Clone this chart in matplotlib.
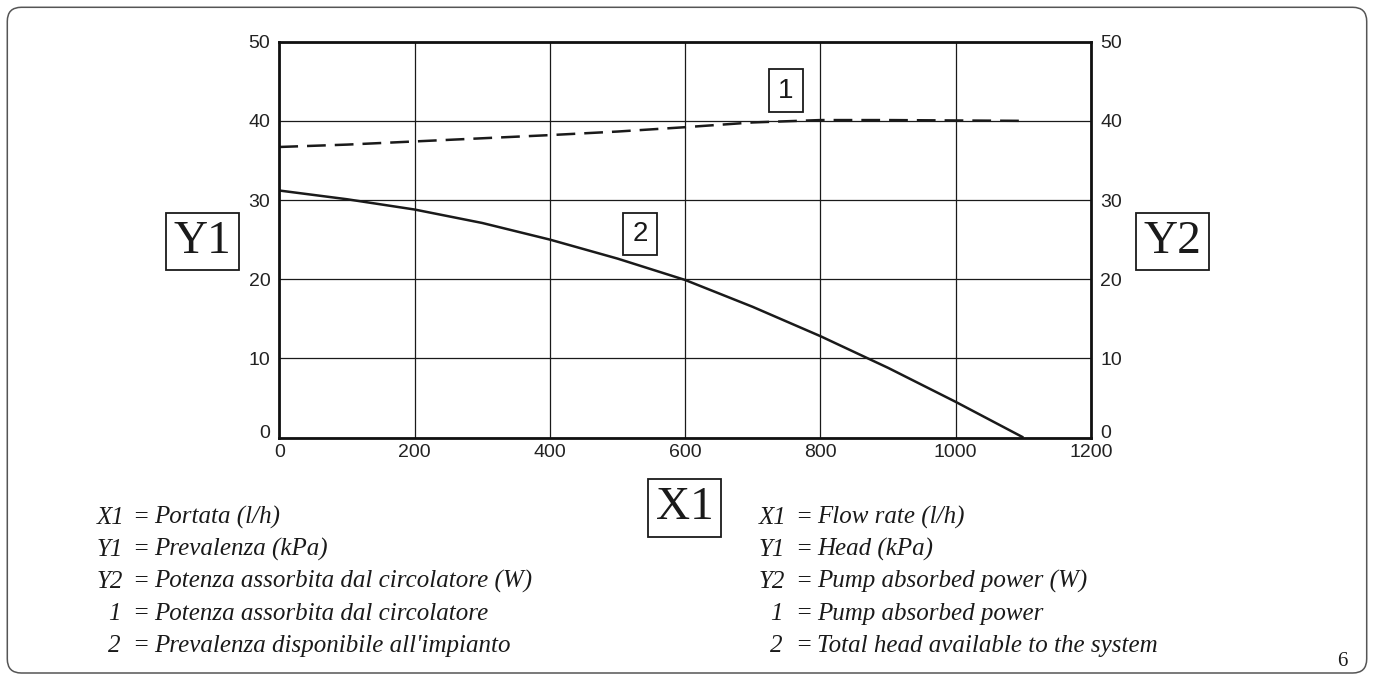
import matplotlib
matplotlib.use("Agg")
import matplotlib.pyplot as plt
from matplotlib.patches import FancyBboxPatch, Rectangle
from matplotlib.transforms import IdentityTransform, ScaledTranslation

# ---- data ----
flow = [0, 100, 200, 300, 400, 500, 600, 700, 800, 900, 1000, 1100]
head = [31.2, 30.1, 28.8, 27.1, 25.0, 22.6, 19.9, 16.5, 12.8, 8.8, 4.5, 0.0]
power = [36.7, 37.0, 37.4, 37.8, 38.2, 38.65, 39.2, 39.8, 40.1, 40.1, 40.05, 40.0]
x_ticks = [0, 200, 400, 600, 800, 1000, 1200]
y_ticks = [0, 10, 20, 30, 40, 50]

legend_it = [("X1", "Portata (l/h)"),
             ("Y1", "Prevalenza (kPa)"),
             ("Y2", "Potenza assorbita dal circolatore (W)"),
             ("1", "Potenza assorbita dal circolatore"),
             ("2", "Prevalenza disponibile all'impianto")]
legend_en = [("X1", "Flow rate (l/h)"),
             ("Y1", "Head (kPa)"),
             ("Y2", "Pump absorbed power (W)"),
             ("1", "Pump absorbed power"),
             ("2", "Total head available to the system")]

W, H = 1375, 679
fig = plt.figure(figsize=(W / 100, H / 100), dpi=100)
fig.patch.set_facecolor("white")

def fx(px):
    return px / W

def fy(py):
    return 1 - py / H

ax = fig.add_axes([fx(279.3), fy(437.5), fx(1091) - fx(279.3), fy(41.7) - fy(437.5)])
ax.set_xlim(0, 1200)
ax.set_ylim(0, 50)
ax.set_xticks(x_ticks)
ax.set_yticks(y_ticks)
ax.grid(True, color="#1a1a1a", linewidth=0.9)
ax.set_axisbelow(True)
for s in ax.spines.values():
    s.set_linewidth(2.0)
    s.set_color("#111111")
ax.tick_params(length=0, labelsize=14, labelcolor="#222222", labelright=True)
ax.tick_params(axis="y", pad=5.5)
ax.tick_params(axis="x", pad=5)
for lab in ax.get_xticklabels():
    lab.set_fontfamily("Liberation Sans")
up = ScaledTranslation(0, 6 / 100, fig.dpi_scale_trans)
for i, t in enumerate(ax.yaxis.get_major_ticks()):
    t.label1.set_fontfamily("Liberation Sans")
    t.label2.set_fontfamily("Liberation Sans")
    t.label2.set_fontsize(14)
    t.label2.set_color("#222222")
    t.set_pad(6.5)
    if i == 0:
        t.label1.set_transform(t.label1.get_transform() + up)
        t.label2.set_transform(t.label2.get_transform() + up)

ax.plot(flow, head, color="#1a1a1a", linewidth=1.8, solid_capstyle="butt")
ax.plot(flow, power, color="#1a1a1a", linewidth=1.8, dashes=(7.5, 3.6))

# ---- boxed labels ----
def boxed(x0, y0, x1, y1, text, family, size, lw=1.3):
    fig.patches.append(Rectangle((fx(x0), fy(y1)), fx(x1) - fx(x0), fy(y0) - fy(y1),
                                 transform=fig.transFigure, fill=False,
                                 edgecolor="#1a1a1a", linewidth=lw))
    fig.text(fx((x0 + x1) / 2), fy((y0 + y1) / 2), text, ha="center", va="center",
             fontsize=size, family=family, color="#1a1a1a")

boxed(166, 213, 238.7, 270, "Y1", "Liberation Serif", 34)
boxed(1136, 213, 1208.7, 270, "Y2", "Liberation Serif", 34)
boxed(648, 479.3, 721.4, 536.7, "X1", "Liberation Serif", 34)
boxed(768.7, 69.3, 803, 111.7, "1", "Liberation Sans", 20)
boxed(622.7, 212.7, 657.3, 255, "2", "Liberation Sans", 20)

# ---- legend texts ----
baselines = [524, 556, 588, 620, 652]
fs = 18
def legend_block(items, x_lab, x_eq, x_txt):
    for (lab, txt), b in zip(items, baselines):
        xl = x_lab if len(lab) > 1 else x_lab + 11
        fig.text(fx(xl), fy(b), lab, ha="left", va="baseline", fontsize=fs,
                 family="Liberation Serif", style="italic", color="#1a1a1a")
        fig.text(fx(x_eq), fy(b), "=", ha="left", va="baseline", fontsize=fs,
                 family="Liberation Serif", style="italic", color="#1a1a1a")
        fig.text(fx(x_txt), fy(b), txt, ha="left", va="baseline", fontsize=fs,
                 family="Liberation Serif", style="italic", color="#1a1a1a")

legend_block(legend_it, 96.7, 131.7, 154.3)
legend_block(legend_en, 758.7, 795, 817)

fig.text(fx(1337), fy(666), "6", ha="left", va="baseline", fontsize=15,
         family="Liberation Serif", color="#1a1a1a")

# ---- page frame ----
fig.patches.append(FancyBboxPatch((7.3, H - 673), 1366.7 - 7.3, 673 - 7.3,
                                  boxstyle="round,pad=0,rounding_size=14",
                                  transform=IdentityTransform(), fill=False,
                                  edgecolor="#555555", linewidth=1.1))

fig.savefig("out.png", dpi=100, facecolor="white")
